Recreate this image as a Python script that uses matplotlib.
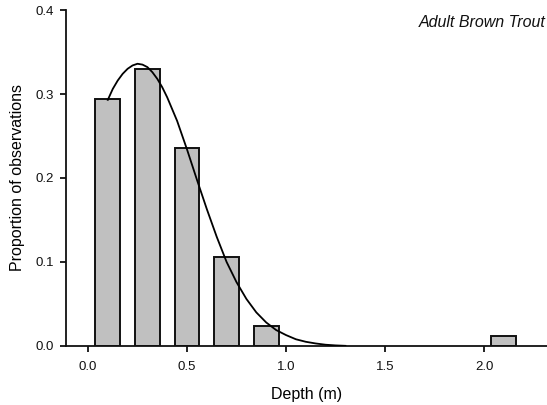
import matplotlib
matplotlib.use("Agg")
import matplotlib.pyplot as plt

# profondeur (centre des classes, m) et proportion observée
depth = [0.1, 0.3, 0.5, 0.7, 0.9, 2.1]
proportion = [0.294, 0.330, 0.236, 0.106, 0.024, 0.012]

# courbe ajustée, points
curve_x = [0.100, 0.125, 0.150, 0.175, 0.200, 0.225, 0.250, 0.275, 0.300, 0.325,
           0.350, 0.375, 0.40, 0.45, 0.50, 0.55,
           0.60, 0.65, 0.70, 0.75, 0.80, 0.85, 0.90, 0.95, 1.00, 1.05,
           1.10, 1.15, 1.20, 1.25, 1.30]
curve_y = [0.293, 0.306, 0.316, 0.324, 0.330, 0.334, 0.336, 0.335, 0.332, 0.326,
           0.318, 0.308, 0.296, 0.268, 0.234, 0.198,
           0.163, 0.130, 0.100, 0.076, 0.056, 0.040, 0.028, 0.019, 0.013, 0.008,
           0.005, 0.003, 0.0015, 0.0007, 0.0002]

xticks = [0.0, 0.5, 1.0, 1.5, 2.0]
yticks = [0.0, 0.1, 0.2, 0.3, 0.4]

plt.rcParams["font.family"] = ["Liberation Sans", "DejaVu Sans"]

fig = plt.figure(figsize=(5.47, 4.05), dpi=100)
ax = fig.add_axes([0.1207, 0.1457, 0.8793, 0.8296])

ax.bar(depth, proportion, width=0.125, color="#c0c0c0",
       edgecolor="#111111", linewidth=1.4, zorder=2)
ax.plot(curve_x, curve_y, color="black", linewidth=1.3, zorder=3)

ax.set_xlim(-0.111, 2.318)
ax.set_ylim(0, 0.4)
ax.set_xticks(xticks)
ax.set_yticks(yticks)
ax.set_xticklabels([f"{t:.1f}" for t in xticks])
ax.set_yticklabels([f"{t:.1f}" for t in yticks])

for side in ["top", "right"]:
    ax.spines[side].set_visible(False)
for side in ["left", "bottom"]:
    ax.spines[side].set_linewidth(1.3)
    ax.spines[side].set_color("#111111")

ax.tick_params(axis="both", direction="out", length=4, width=1.3,
               labelsize=9.5, colors="#111111")
ax.tick_params(axis="x", pad=7)
ax.tick_params(axis="y", pad=5)

ax.set_xlabel("Depth (m)", fontsize=11.5, labelpad=10)
ax.set_ylabel("Proportion of observations", fontsize=11.5, labelpad=7)

ax.text(0.997, 0.985, "Adult Brown Trout", transform=ax.transAxes,
        ha="right", va="top", fontsize=11.5, style="italic", color="#111111")

fig.savefig("out.png", dpi=100)
